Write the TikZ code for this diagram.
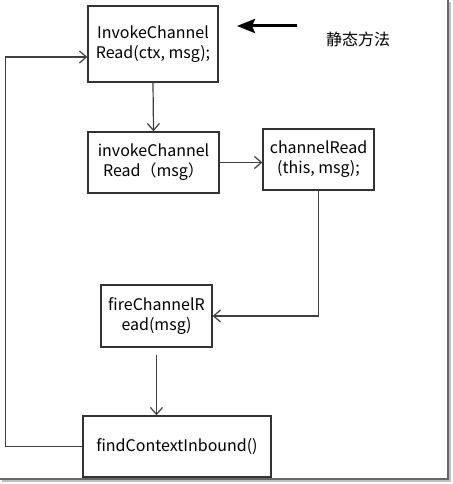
\documentclass[tikz,border=0pt]{standalone}
\usepackage{fontspec}
\setmainfont{Noto Sans CJK SC}
\usetikzlibrary{arrows.meta}
\tikzset{
	callbox/.style={draw=black!80, line width=1.3pt, align=center, inner sep=0pt,
		font=\fontsize{16pt}{20pt}\selectfont},
	flow/.style={draw=black!75, line width=1.2pt, -{Straight Barb[length=7pt,width=12pt]}}
}
\begin{document}
\begin{tikzpicture}[x=1pt,y=-1pt]
\useasboundingbox (0,0) rectangle (452,484);
\fill[white] (0,0) rectangle (452,484);
\draw[black!25, line width=2pt] (2,481) -- (450,481) -- (450,2);
\draw[black!60, line width=1.2pt] (0,479) -- (448,479) -- (448,0);
\node[callbox, minimum width=130pt, minimum height=76pt] (ctxread) at (153,44) {InvokeChannel\\Read(ctx, msg);};
\node[callbox, minimum width=131pt, minimum height=61pt] (msgread) at (153.5,162.5) {invokeChannel\\Read（msg）};
\node[callbox, minimum width=111pt, minimum height=61pt] (chread) at (318.5,159.5) {channelRead\\(this, msg);};
\node[callbox, minimum width=111pt, minimum height=62pt] (fireread) at (156.5,316) {fireChannelR\\ead(msg)};
\node[callbox, minimum width=188pt, minimum height=61pt] (findin) at (177,446.5) {findContextInbound()};
\node[font=\fontsize{16pt}{20pt}\selectfont] (static) at (358,39) {静态方法};
\coordinate (staticend) at (297,26);
\draw[line width=3pt, -{Stealth[length=18pt,width=14pt,inset=3pt]}] (staticend) -- (237,26);
\draw[flow] (ctxread.south) -- (msgread.north);
\draw[flow] (msgread.east) -- (msgread.east -| chread.west);
\draw[flow] (chread.south) |- (fireread.east);
\draw[flow, shorten <=7pt] (fireread.south) -- (fireread.south |- findin.north);
\draw[flow] (findin.west) -- ++(-77,0) |- ([yshift=-13pt]ctxread.west);
\end{tikzpicture}
\end{document}
